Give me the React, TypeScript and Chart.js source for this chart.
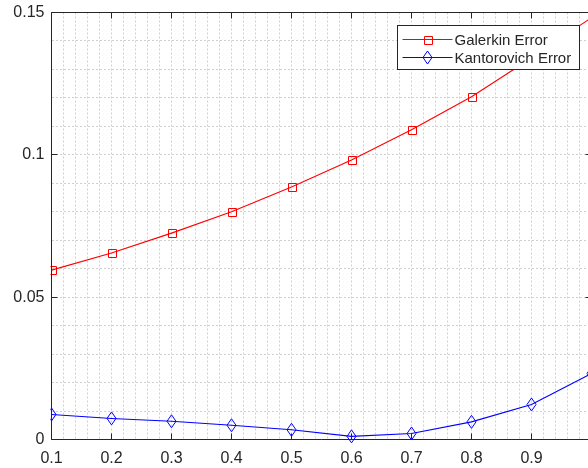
import React, { useEffect, useRef } from 'react';
import { Chart, registerables } from 'chart.js';

Chart.register(...registerables);

// ---- data ----
const xValues = [0.1, 0.2, 0.3, 0.4, 0.5, 0.6, 0.7, 0.8, 0.9, 1.0];
const galerkinError = [0.0595, 0.0655, 0.0725, 0.08, 0.0887, 0.0982, 0.1088, 0.1204, 0.134, 0.1482];
const kantorovichError = [0.0088, 0.0074, 0.0064, 0.005, 0.0034, 0.0011, 0.0021, 0.0062, 0.0123, 0.0232];
const seriesLabels = ['Galerkin Error', 'Kantorovich Error'];
const xMajorTicks = [0.1, 0.2, 0.3, 0.4, 0.5, 0.6, 0.7, 0.8, 0.9, 1.0];
const xTickLabels = ['0.1', '0.2', '0.3', '0.4', '0.5', '0.6', '0.7', '0.8', '0.9', '1'];
const yMajorTicks = [0, 0.05, 0.1, 0.15];
const yTickLabels = ['0', '0.05', '0.1', '0.15'];

// ---- styles ----
const seriesColors = ['#ff0000', '#0000ff'];
const seriesMarkers = ['square', 'diamond'];
const FONT = '"Liberation Sans", Arial, Helvetica, sans-serif';
const TEXT = '#262626';
const GRID = '#d0d0d0';

function labelFor(v: number, ticks: number[], labels: string[]) {
  for (let i = 0; i < ticks.length; i++) {
    if (Math.abs(ticks[i] - v) < 1e-6) return labels[i];
  }
  return '';
}

function drawMarker(ctx: CanvasRenderingContext2D, kind: string, x: number, y: number, color: string) {
  ctx.save();
  ctx.strokeStyle = color;
  ctx.lineWidth = 1;
  ctx.beginPath();
  if (kind === 'square') {
    const h = 4;
    const cx = Math.round(x) + 0.5;
    const cy = Math.round(y) + 0.5;
    ctx.rect(cx - h, cy - h, 2 * h, 2 * h);
  } else {
    const hw = 4.5;
    const hh = 6.5;
    ctx.moveTo(x, y - hh);
    ctx.lineTo(x + hw, y);
    ctx.lineTo(x, y + hh);
    ctx.lineTo(x - hw, y);
    ctx.closePath();
  }
  ctx.stroke();
  ctx.restore();
}

const framePlugin = {
  id: 'matlabFrame',
  afterDatasetsDraw(chart: any) {
    const { ctx, chartArea: a, scales } = chart;
    const xs = scales.x;
    const ys = scales.y;

    // markers (positions from the library's dataset meta)
    ctx.save();
    ctx.beginPath();
    ctx.rect(a.left - 1, a.top - 8, a.right - a.left + 2, a.bottom - a.top + 16);
    ctx.clip();
    chart.data.datasets.forEach((_d: any, i: number) => {
      const meta = chart.getDatasetMeta(i);
      meta.data.forEach((pt: any) => {
        drawMarker(ctx, seriesMarkers[i], pt.x, pt.y, seriesColors[i]);
      });
    });
    ctx.restore();

    ctx.save();
    ctx.strokeStyle = TEXT;
    ctx.lineWidth = 1;
    ctx.beginPath();
    ctx.rect(a.left, a.top, a.right - a.left, a.bottom - a.top);
    ctx.stroke();
    const tl = 6;
    ctx.beginPath();
    xMajorTicks.forEach((v) => {
      const px = Math.round(xs.getPixelForValue(v) - 0.5) + 0.5;
      ctx.moveTo(px, a.bottom);
      ctx.lineTo(px, a.bottom - tl);
      ctx.moveTo(px, a.top);
      ctx.lineTo(px, a.top + tl);
    });
    yMajorTicks.forEach((v) => {
      const py = Math.round(ys.getPixelForValue(v) - 0.5) + 0.5;
      ctx.moveTo(a.left, py);
      ctx.lineTo(a.left + tl, py);
      ctx.moveTo(a.right, py);
      ctx.lineTo(a.right - tl, py);
    });
    ctx.stroke();

    // legend
    const fontSize = 15;
    ctx.font = `${fontSize}px ${FONT}`;
    let maxW = 0;
    seriesLabels.forEach((l) => {
      maxW = Math.max(maxW, ctx.measureText(l).width);
    });
    const sampleW = 50;
    const textX = 57;
    const boxW = Math.round(textX + maxW + 8);
    const rowH = 18.5;
    const boxH = 44;
    const right = Math.round(a.right - 13) + 0.5;
    const left = right - boxW;
    const top = Math.round(a.top + 12) + 0.5;
    ctx.fillStyle = '#ffffff';
    ctx.fillRect(left, top, boxW, boxH);
    ctx.strokeStyle = TEXT;
    ctx.strokeRect(left, top, boxW, boxH);
    seriesLabels.forEach((label, i) => {
      const cy = Math.round(top + 13 + i * rowH) + 0.5;
      ctx.strokeStyle = seriesColors[i];
      ctx.lineWidth = 1;
      ctx.beginPath();
      ctx.moveTo(left + 5, cy);
      ctx.lineTo(left + 5 + sampleW, cy);
      ctx.stroke();
      drawMarker(ctx, seriesMarkers[i], left + 30, cy, seriesColors[i]);
      ctx.fillStyle = TEXT;
      ctx.textBaseline = 'middle';
      ctx.textAlign = 'left';
      ctx.fillText(label, left + textX, cy + 1);
    });
    ctx.restore();
  },
};

export default function App() {
  const ref = useRef<HTMLCanvasElement>(null);

  useEffect(() => {
    document.body.style.margin = '0';
    document.body.style.overflow = 'hidden';
    const canvas = ref.current!;

    const chart = new Chart(canvas, {
      type: 'line',
      data: {
        datasets: seriesLabels.map((label, s) => ({
          label,
          data: xValues.map((x, i) => ({ x, y: (s === 0 ? galerkinError : kantorovichError)[i] })),
          borderColor: seriesColors[s],
          backgroundColor: seriesColors[s],
          borderWidth: 1.1,
          pointRadius: 0,
          pointHoverRadius: 0,
          tension: 0,
        })),
      },
      options: {
        animation: false,
        responsive: false,
        devicePixelRatio: 1,
        events: [],
        layout: { padding: { left: 0, top: 12.5, right: 28.5, bottom: 0 } },
        plugins: {
          legend: { display: false },
          tooltip: { enabled: false },
        },
        scales: {
          x: {
            type: 'linear',
            min: 0.1,
            max: 1.0,
            border: { display: false, dash: [2, 2] },
            grid: {
              color: GRID,
              lineWidth: 1,
              drawTicks: false,
            },
            ticks: {
              stepSize: 0.02,
              autoSkip: false,
              maxRotation: 0,
              padding: 9,
              color: TEXT,
              font: { family: FONT, size: 16 },
              callback: (v: any) => labelFor(Number(v), xMajorTicks, xTickLabels),
            },
            afterFit: (s: any) => {
              s.height = 28.5;
            },
          },
          y: {
            type: 'linear',
            min: 0,
            max: 0.15,
            border: { display: false, dash: [2, 2] },
            grid: {
              color: GRID,
              lineWidth: 1,
              drawTicks: false,
            },
            ticks: {
              stepSize: 0.01,
              autoSkip: false,
              padding: 7,
              color: TEXT,
              font: { family: FONT, size: 16, lineHeight: 0.5 },
              callback: (v: any) => labelFor(Number(v), yMajorTicks, yTickLabels),
            },
            afterFit: (s: any) => {
              s.width = 51.5;
            },
          },
        },
      },
      plugins: [framePlugin],
    } as any);

    return () => chart.destroy();
  }, []);

  return (
    <div style={{ position: 'fixed', left: 0, top: 0, width: 620, height: 468, background: '#ffffff' }}>
      <canvas ref={ref} width={620} height={468} style={{ display: 'block' }} />
    </div>
  );
}
